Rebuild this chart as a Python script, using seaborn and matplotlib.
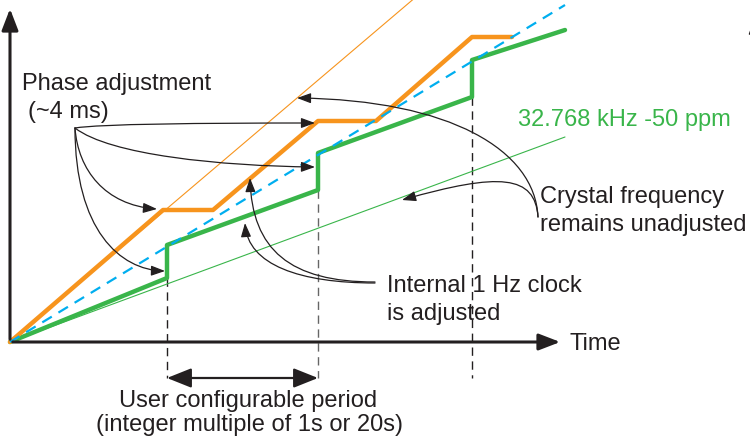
import numpy as np
import pandas as pd
import matplotlib
matplotlib.use('Agg')
import matplotlib.pyplot as plt
from matplotlib.patches import FancyArrowPatch
from matplotlib.path import Path
import seaborn as sns

sns.set_theme(style='white')
plt.rcParams['font.family'] = ['Liberation Sans', 'DejaVu Sans']

# time / count values (origin at the axes corner)
step_t = [157, 308, 462]
green_t = [0, 157, 157, 308, 308, 462, 462, 555]
green_v = [0, 64, 97, 152, 189, 245, 282, 312]
orange_t = [0, 153, 203, 308, 366, 462, 502]
orange_v = [0, 132, 132, 221, 221, 305, 305]
nominal_t = [0, 555]
nominal_v = [0, 337]
fast_t = [0, 420]
fast_v = [0, 357]
slow_t = [0, 555]
slow_v = [0, 205]
step_low = [64, 152, 245]

ORANGE = '#F7941D'
GREEN = '#39B54A'
BLUE = '#00AEEF'
INK = '#231F20'
FS = 17

fig = plt.figure(figsize=(7.5, 4.42), dpi=100)
ax = fig.add_axes([0, 0, 1, 1])
ax.set_xlim(-10, 740)
ax.set_ylim(-100, 342)
ax.axis('off')

# thin reference lines
sns.lineplot(x=fast_t, y=fast_v, color=ORANGE, lw=0.8, ax=ax, zorder=2)
sns.lineplot(x=slow_t, y=slow_v, color=GREEN, lw=0.8, ax=ax, zorder=2)

# adjusted clocks
g = pd.DataFrame({'t': green_t, 'v': green_v})
o = pd.DataFrame({'t': orange_t, 'v': orange_v})
sns.lineplot(data=g, x='t', y='v', sort=False, estimator=None, color=GREEN,
             lw=3.2, ax=ax, zorder=3)
sns.lineplot(data=o, x='t', y='v', sort=False, estimator=None, color=ORANGE,
             lw=3.2, ax=ax, zorder=3)
ax.plot(nominal_t, nominal_v, color=BLUE, lw=1.6, ls=(0, (5, 3.5)), zorder=4)

# vertical dashed markers at adjustment instants
for i, t in enumerate(step_t):
    c = '#666666' if i == 1 else INK
    ax.plot([t, t], [step_low[i], -36], color=c, lw=1.0, ls=(0, (6, 4)), zorder=1)

# axes arrows
ax.add_patch(FancyArrowPatch((0, 0), (0, 336), arrowstyle='-|>,head_length=0.65,head_width=0.25',
                             mutation_scale=20, color=INK, lw=2.2, zorder=5))
ax.add_patch(FancyArrowPatch((0, 0), (553, 0), arrowstyle='-|>,head_length=0.65,head_width=0.25',
                             mutation_scale=20, color=INK, lw=2.2, zorder=5))
# edge of a neighbouring axis arrow, mostly cut off
ax.add_patch(FancyArrowPatch((745, 300), (745, 328), arrowstyle='-|>,head_length=0.55,head_width=0.2',
                             mutation_scale=20, color=INK, lw=1.0, zorder=5))
ax.add_patch(FancyArrowPatch((step_t[0], -36), (step_t[1], -36),
                             arrowstyle='<|-|>,head_length=0.75,head_width=0.3',
                             mutation_scale=20, color=INK, lw=1.6, shrinkA=0, shrinkB=0, zorder=5))

# curved call-out arrows (cubic curves)
curves = [
    [(65, 214), (68, 172), (95, 137), (147, 133)],
    [(65, 214), (65, 112), (110, 72), (155, 71)],
    [(65, 214), (90, 218), (190, 219), (305, 219)],
    [(65, 214), (100, 187), (210, 176), (305, 175)],
    [(365, 60), (280, 60), (242, 92), (240, 164)],
    [(365, 59), (290, 59), (238, 77), (235, 119)],
    [(528, 125), (525, 192), (440, 242), (287, 244)],
    [(528, 125), (525, 167), (490, 170), (392, 142)],
]
codes = [Path.MOVETO, Path.CURVE4, Path.CURVE4, Path.CURVE4]
for c in curves:
    ax.add_patch(FancyArrowPatch(path=Path(c, codes),
                                 arrowstyle='-|>,head_length=0.6,head_width=0.22',
                                 mutation_scale=14, color=INK, lw=0.9, zorder=6))

# labels
ax.text(12, 252, 'Phase adjustment', fontsize=FS, color=INK, va='baseline')
ax.text(18, 224, '(~4 ms)', fontsize=FS, color=INK, va='baseline')
ax.text(508, 216, '32.768 kHz -50 ppm', fontsize=FS, color=GREEN, va='baseline')
ax.text(530, 139, 'Crystal frequency', fontsize=FS, color=INK, va='baseline')
ax.text(530, 111, 'remains unadjusted', fontsize=FS, color=INK, va='baseline')
ax.text(377, 50, 'Internal 1 Hz clock', fontsize=FS, color=INK, va='baseline')
ax.text(377, 22, 'is adjusted', fontsize=FS, color=INK, va='baseline')
ax.text(560, -8, 'Time', fontsize=FS, color=INK, va='baseline')
ax.text(238, -65, 'User configurable period', fontsize=FS, color=INK, va='baseline', ha='center')
ax.text(240, -89, '(integer multiple of 1s or 20s)', fontsize=FS, color=INK, va='baseline', ha='center')

fig.savefig('out.png', dpi=100)
